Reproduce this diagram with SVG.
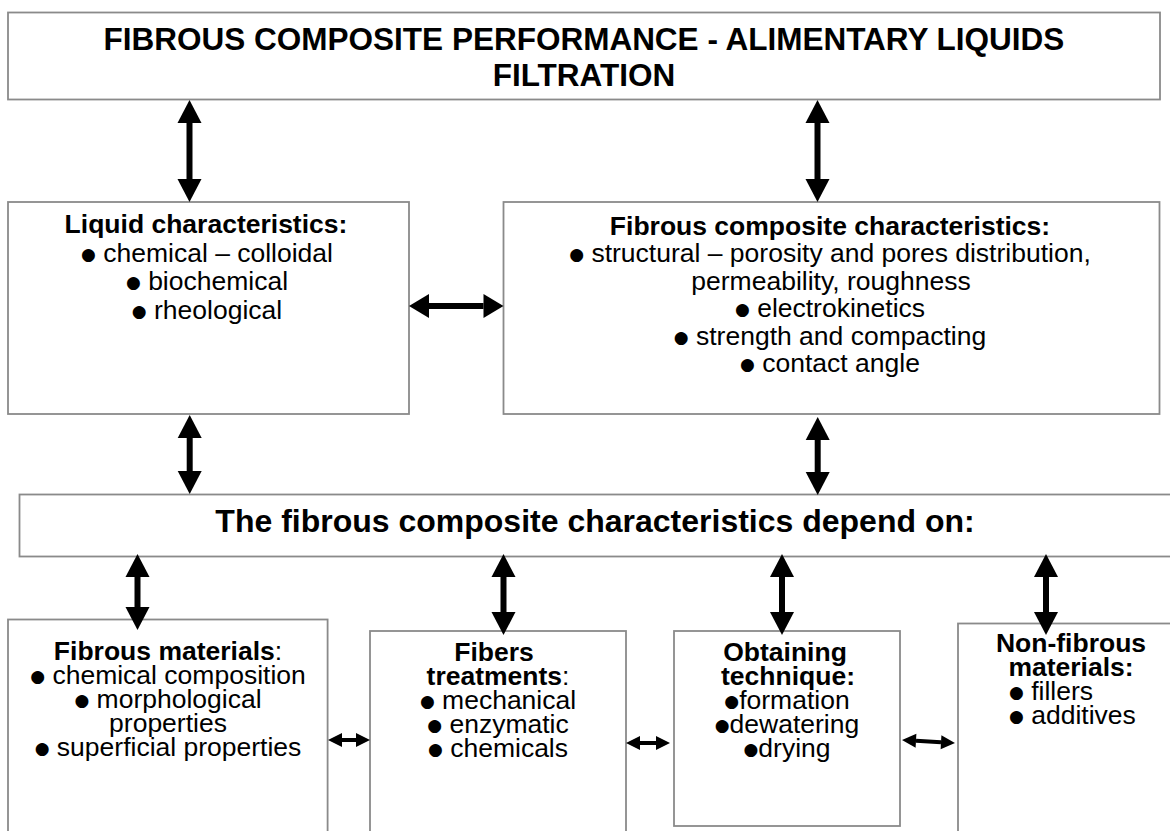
<svg xmlns="http://www.w3.org/2000/svg" width="1170" height="831" viewBox="0 0 1170 831">
<defs>
<style>
.box{fill:#fff;stroke:#8a8a8a;stroke-width:1.8}
text{font-family:"Liberation Sans",Arial,sans-serif;fill:#000;text-anchor:middle}
.title{font-size:31.5px;font-weight:bold}
.mid{font-size:32px;font-weight:bold}
.t{font-size:26.5px}
.h{font-weight:bold}
.b{font-family:"DejaVu Sans",sans-serif;font-size:17px;baseline-shift:2px}
.l{text-anchor:start}
.big{stroke:#000;stroke-width:6;fill:none;marker-start:url(#hb);marker-end:url(#hb)}
.med{stroke:#000;stroke-width:6;fill:none;marker-start:url(#hm);marker-end:url(#hm)}
.sm{stroke:#000;stroke-width:4;fill:none;marker-start:url(#hs);marker-end:url(#hs)}
</style>
<marker id="hb" markerUnits="userSpaceOnUse" markerWidth="23" markerHeight="24" refX="0" refY="12" orient="auto-start-reverse" overflow="visible"><path d="M0,0 L23,12 L0,24 Z" fill="#000"/></marker>
<marker id="hm" markerUnits="userSpaceOnUse" markerWidth="20" markerHeight="24" refX="0" refY="12" orient="auto-start-reverse" overflow="visible"><path d="M0,0 L20,12 L0,24 Z" fill="#000"/></marker>
<marker id="hs" markerUnits="userSpaceOnUse" markerWidth="14" markerHeight="14" refX="0" refY="7" orient="auto-start-reverse" overflow="visible"><path d="M0,0 L14,7 L0,14 Z" fill="#000"/></marker>
</defs>
<rect width="1170" height="831" fill="#fff"/>

<g id="title">
<rect class="box" x="8" y="12.5" width="1152" height="87"/>
<text class="title" x="584" y="50">FIBROUS COMPOSITE PERFORMANCE - ALIMENTARY LIQUIDS</text>
<text class="title" x="584" y="86">FILTRATION</text>
</g>

<g id="liquid">
<rect class="box" x="8" y="202" width="401" height="212"/>
<text class="t h" x="206" y="233">Liquid characteristics:</text>
<text class="t" x="207" y="261.5"><tspan class="b">●</tspan> chemical – colloidal</text>
<text class="t" x="207" y="290"><tspan class="b">●</tspan> biochemical</text>
<text class="t" x="207" y="318.5"><tspan class="b">●</tspan> rheological</text>
</g>

<g id="composite">
<rect class="box" x="503.5" y="202" width="656" height="212"/>
<text class="t h" x="830" y="234.5">Fibrous composite characteristics:</text>
<text class="t" x="830" y="262"><tspan class="b">●</tspan> structural – porosity and pores distribution,</text>
<text class="t" x="831" y="289.5">permeability, roughness</text>
<text class="t" x="830" y="317"><tspan class="b">●</tspan> electrokinetics</text>
<text class="t" x="830" y="344.5"><tspan class="b">●</tspan> strength and compacting</text>
<text class="t" x="830" y="372"><tspan class="b">●</tspan> contact angle</text>
</g>

<g id="depend">
<rect class="box" x="19.5" y="494.5" width="1160" height="62"/>
<text class="mid" x="595" y="531.5">The fibrous composite characteristics depend on:</text>
</g>

<g id="fibrous-materials">
<rect class="box" x="8" y="619.5" width="319.6" height="230"/>
<text class="t" x="168" y="660"><tspan class="h">Fibrous materials</tspan>:</text>
<text class="t" x="168" y="684"><tspan class="b">●</tspan> chemical composition</text>
<text class="t" x="168" y="708"><tspan class="b">●</tspan> morphological</text>
<text class="t" x="168" y="732">properties</text>
<text class="t" x="168" y="756"><tspan class="b">●</tspan> superficial properties</text>
</g>

<g id="fibers-treatments">
<rect class="box" x="370" y="631" width="256" height="220"/>
<text class="t h" x="494" y="661">Fibers</text>
<text class="t" x="498" y="685"><tspan class="h">treatments</tspan>:</text>
<text class="t" x="498" y="709"><tspan class="b">●</tspan> mechanical</text>
<text class="t" x="498" y="733"><tspan class="b">●</tspan> enzymatic</text>
<text class="t" x="498" y="757"><tspan class="b">●</tspan> chemicals</text>
</g>

<g id="obtaining">
<rect class="box" x="674" y="631" width="226" height="195"/>
<text class="t h" x="785" y="661">Obtaining</text>
<text class="t h" x="788" y="685">technique:</text>
<text class="t" x="787" y="709"><tspan class="b">●</tspan>formation</text>
<text class="t" x="787" y="733"><tspan class="b">●</tspan>dewatering</text>
<text class="t" x="787" y="757"><tspan class="b">●</tspan>drying</text>
</g>

<g id="non-fibrous">
<rect class="box" x="958" y="623.5" width="240" height="230"/>
<text class="t h" x="1071" y="652">Non-fibrous</text>
<text class="t h" x="1071" y="676">materials:</text>
<text class="t l" x="1009" y="700"><tspan class="b">●</tspan> fillers</text>
<text class="t l" x="1009" y="724"><tspan class="b">●</tspan> additives</text>
</g>

<g id="connectors">
<line class="big" x1="189.5" y1="123" x2="189.5" y2="179"/>
<line class="big" x1="817.5" y1="123" x2="817.5" y2="179"/>
<line class="med" x1="429" y1="306" x2="483.5" y2="306"/>
<line class="big" x1="189.7" y1="438" x2="189.7" y2="471"/>
<line class="big" x1="817.7" y1="440" x2="817.7" y2="472"/>
<line class="big" x1="137.5" y1="577" x2="137.5" y2="607"/>
<line class="big" x1="503.5" y1="577" x2="503.5" y2="612"/>
<line class="big" x1="782" y1="577" x2="782" y2="612"/>
<line class="big" x1="1046" y1="577" x2="1046" y2="612"/>
<line class="sm" x1="342" y1="740" x2="356" y2="740"/>
<line class="sm" x1="640" y1="743" x2="656" y2="743"/>
<line class="sm" x1="916" y1="740.8" x2="941" y2="742.2"/>
</g>
</svg>
